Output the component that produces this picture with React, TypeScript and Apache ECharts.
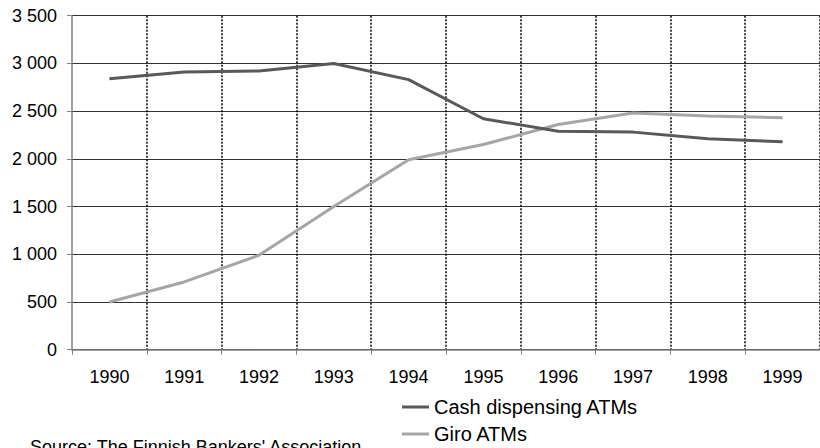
import React, { useEffect, useRef } from "react";
import * as echarts from "echarts";

const years = ["1990", "1991", "1992", "1993", "1994", "1995", "1996", "1997", "1998", "1999"];
const cashDispensing = [2840, 2910, 2920, 3000, 2830, 2420, 2290, 2280, 2210, 2180];
const giro = [500, 710, 990, 1500, 1990, 2150, 2360, 2480, 2450, 2430];
const seriesNames = ["Cash dispensing ATMs", "Giro ATMs"];
const sourceText = "Source: The Finnish Bankers' Association";

const FONT = "'Liberation Sans', Arial, sans-serif";

export default function App() {
  const ref = useRef<HTMLDivElement>(null);
  useEffect(() => {
    document.body.style.margin = "0";
    const chart = echarts.init(ref.current!, null, { renderer: "svg" });
    chart.setOption({
      animation: false,
      backgroundColor: "#ffffff",
      grid: { left: 72, top: 15.7, width: 753, height: 334 },
      legend: {
        orient: "vertical",
        left: 402,
        top: 397,
        padding: 0,
        itemWidth: 27,
        itemHeight: 3,
        itemGap: 7,
        icon: "rect",
        textStyle: { fontFamily: FONT, fontSize: 20, color: "#000" },
        data: seriesNames,
      },
      xAxis: {
        type: "category",
        data: years,
        boundaryGap: true,
        axisLine: { lineStyle: { color: "#808080", width: 1.5 } },
        axisTick: { show: true, length: 5, lineStyle: { color: "#808080", width: 1 } },
        axisLabel: { margin: 18, fontFamily: FONT, fontSize: 18, color: "#000" },
        splitLine: {
          show: true,
          interval: (i: number) => i !== 0,
          lineStyle: { color: "#000", width: 1.5, type: [2, 1.5] },
        },
      },
      yAxis: {
        type: "value",
        min: 0,
        max: 3500,
        interval: 500,
        axisLine: { show: true, lineStyle: { color: "#808080", width: 1.5 } },
        axisTick: { show: true, length: 5, lineStyle: { color: "#808080", width: 1 } },
        axisLabel: {
          margin: 15,
          fontFamily: FONT,
          fontSize: 18,
          color: "#000",
          formatter: (v: number) => String(v).replace(/\B(?=(\d{3})+(?!\d))/g, " "),
        },
        splitLine: { show: true, lineStyle: { color: "#333", width: 1 } },
      },
      series: [
        {
          name: seriesNames[0],
          type: "line",
          data: cashDispensing,
          symbol: "none",
          lineStyle: { color: "#595959", width: 3 },
          itemStyle: { color: "#595959" },
          z: 3,
        },
        {
          name: seriesNames[1],
          type: "line",
          data: giro,
          symbol: "none",
          lineStyle: { color: "#a6a6a6", width: 3 },
          itemStyle: { color: "#a6a6a6" },
          z: 2,
        },
      ],
      graphic: [
        {
          type: "text",
          left: 30,
          top: 438,
          style: { text: sourceText, fontFamily: FONT, fontSize: 18, fill: "#000" },
        },
      ],
    });
    return () => chart.dispose();
  }, []);
  return <div ref={ref} style={{ width: 820, height: 448 }} />;
}
